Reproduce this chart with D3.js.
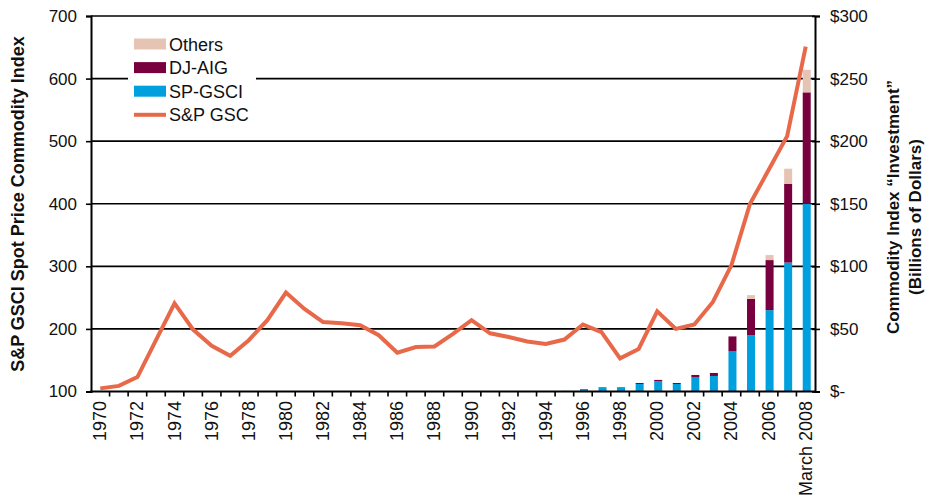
<!DOCTYPE html>
<html>
<head>
<meta charset="utf-8">
<script src="https://cdn.jsdelivr.net/npm/d3@7/dist/d3.min.js"></script>
<style>
  html, body { margin: 0; padding: 0; background: #fff; }
  svg { display: block; font-family: "Liberation Sans", Arial, Helvetica, sans-serif; }
</style>
</head>
<body>
<svg id="chart" width="933" height="499"></svg>
<script>
// ---- Data ----
const years = d3.range(1970, 2009);
const yearLabels = years.map(y => y === 2008 ? "March 2008" : String(y));
const spGsc = [105,109,123,182,241,199,173,157,182,214,258,232,211,209,206,190,162,171,172,192,214,193,187,180,176,183,207,195,153,168,228,200,207,243,302,400,454,508,651];
const spGsci = [0,0,0,0,0,0,0,0,0,0,0,0,0,0,0,0,0,0,0,0,0,0,0,0,0,0.5,2,3.5,3.5,6,8.4,6,11.6,12.4,32,45,65,103,150];
const djAig  = [0,0,0,0,0,0,0,0,0,0,0,0,0,0,0,0,0,0,0,0,0,0,0,0,0,0,0,0,0,0.8,0.8,0.8,1.6,2.4,12,29,40,63,89];
const others = [0,0,0,0,0,0,0,0,0,0,0,0,0,0,0,0,0,0,0,0,0,0,0,0,0,0,0,0,0,0,0.3,0,0,0,0,3,4,12,18];
const leftTicks = [100,200,300,400,500,600,700];
const rightTicks = [0,50,100,150,200,250,300];
const seriesNames = ["Others","DJ-AIG","SP-GSCI","S&P GSC"];

const colors = {
  "Others": "#E6C4B4",
  "DJ-AIG": "#79003E",
  "SP-GSCI": "#009FDD",
  "S&P GSC": "#E8694A"
};

// ---- Layout ----
const svg = d3.select("#chart");
const L = 91, R = 815, T = 16, B = 391.5;

const x = d3.scaleBand().domain(yearLabels).range([L, R]).padding(0);
const yL = d3.scaleLinear().domain([100, 700]).range([B, T]);
const yR = d3.scaleLinear().domain([0, 300]).range([B, T]);

// gridlines
svg.append("g").selectAll("line").data(leftTicks.filter(d => d > 100)).join("line")
  .attr("x1", L).attr("x2", R)
  .attr("y1", d => yL(d)).attr("y2", d => yL(d))
  .attr("stroke", "#000").attr("stroke-width", 1.6);

// bars
const table = years.map((y, i) => ({
  label: yearLabels[i], "SP-GSCI": spGsci[i], "DJ-AIG": djAig[i], "Others": others[i]
}));
const stack = d3.stack().keys(["SP-GSCI", "DJ-AIG", "Others"])(table);
const bw = 8;
svg.append("g").selectAll("g").data(stack).join("g")
  .attr("fill", d => colors[d.key])
  .selectAll("rect").data(d => d.filter(p => p[1] - p[0] > 0)).join("rect")
  .attr("x", d => x(d.data.label) + x.bandwidth() / 2 - bw / 2 + 1)
  .attr("width", bw)
  .attr("y", d => yR(d[1]))
  .attr("height", d => yR(d[0]) - yR(d[1]));

// line
const line = d3.line()
  .x((d, i) => x(yearLabels[i]) + x.bandwidth() / 2)
  .y(d => yL(d));
svg.append("path").datum(spGsc)
  .attr("d", line)
  .attr("fill", "none")
  .attr("stroke", colors["S&P GSC"])
  .attr("stroke-width", 4)
  .attr("stroke-linejoin", "miter");

// axes
const leftAxis = d3.axisLeft(yL).tickValues(leftTicks).tickSize(5).tickPadding(9).tickFormat(d3.format("d"));
const gL = svg.append("g").attr("transform", `translate(${L},0)`).call(leftAxis);
const rightAxis = d3.axisRight(yR).tickValues(rightTicks).tickSize(5).tickPadding(10)
  .tickFormat(d => d === 0 ? "$-" : "$" + d);
const gR = svg.append("g").attr("transform", `translate(${R},0)`).call(rightAxis);
[gL, gR].forEach(g => {
  g.select(".domain").attr("stroke", "#000").attr("stroke-width", 2);
  g.selectAll(".tick line").attr("stroke", "#000").attr("stroke-width", 1.6);
  g.selectAll(".tick text").attr("fill", "#111").style("font-size", "17px");
});
gR.selectAll(".tick line").attr("x1", -3);

// bottom axis: ticks at band boundaries, labels on even years
const gB = svg.append("g");
gB.append("line").attr("x1", L - 1).attr("x2", R + 1).attr("y1", B).attr("y2", B)
  .attr("stroke", "#000").attr("stroke-width", 2);
gB.selectAll("line.tk").data(yearLabels.slice(1)).join("line").attr("class", "tk")
  .attr("x1", d => x(d)).attr("x2", d => x(d))
  .attr("y1", B).attr("y2", B + 5)
  .attr("stroke", "#000").attr("stroke-width", 1.6);
gB.selectAll("text").data(yearLabels.filter((d, i) => years[i] % 2 === 0)).join("text")
  .attr("transform", d => `translate(${x(d) + x.bandwidth() / 2 + 6},401) rotate(-90)`)
  .attr("text-anchor", "end")
  .attr("fill", "#111")
  .style("font-size", "18px")
  .text(d => d);

// axis titles
svg.append("text")
  .attr("transform", `translate(24,${(30 + 378) / 2}) rotate(-90)`)
  .attr("text-anchor", "middle")
  .style("font-size", "18px").style("font-weight", "bold")
  .attr("fill", "#111")
  .text("S&P GSCI Spot Price Commodity Index");
svg.append("text")
  .attr("transform", `translate(899,207) rotate(-90)`)
  .attr("text-anchor", "middle")
  .style("font-size", "17px").style("font-weight", "bold")
  .attr("fill", "#111")
  .text("Commodity Index \u201CInvestment\u201D");
svg.append("text")
  .attr("transform", `translate(921,217) rotate(-90)`)
  .attr("text-anchor", "middle")
  .style("font-size", "17px").style("font-weight", "bold")
  .attr("fill", "#111")
  .text("(Billions of Dollars)");

// legend
const lg = svg.append("g");
lg.append("rect").attr("x", 128).attr("y", 30).attr("width", 128).attr("height", 96).attr("fill", "#fff");
const rows = lg.selectAll("g").data(seriesNames).join("g")
  .attr("transform", (d, i) => `translate(134,${44 + i * 23.6})`);
rows.filter(d => d !== "S&P GSC").append("rect")
  .attr("x", 0).attr("y", -5.5).attr("width", 32).attr("height", 11)
  .attr("fill", d => colors[d]);
rows.filter(d => d === "S&P GSC").append("line")
  .attr("x1", 0).attr("x2", 32).attr("y1", 0).attr("y2", 0)
  .attr("stroke", colors["S&P GSC"]).attr("stroke-width", 4);
rows.append("text").attr("x", 35).attr("y", 6.5)
  .style("font-size", "18px").attr("fill", "#111")
  .text(d => d);
</script>
</body>
</html>
